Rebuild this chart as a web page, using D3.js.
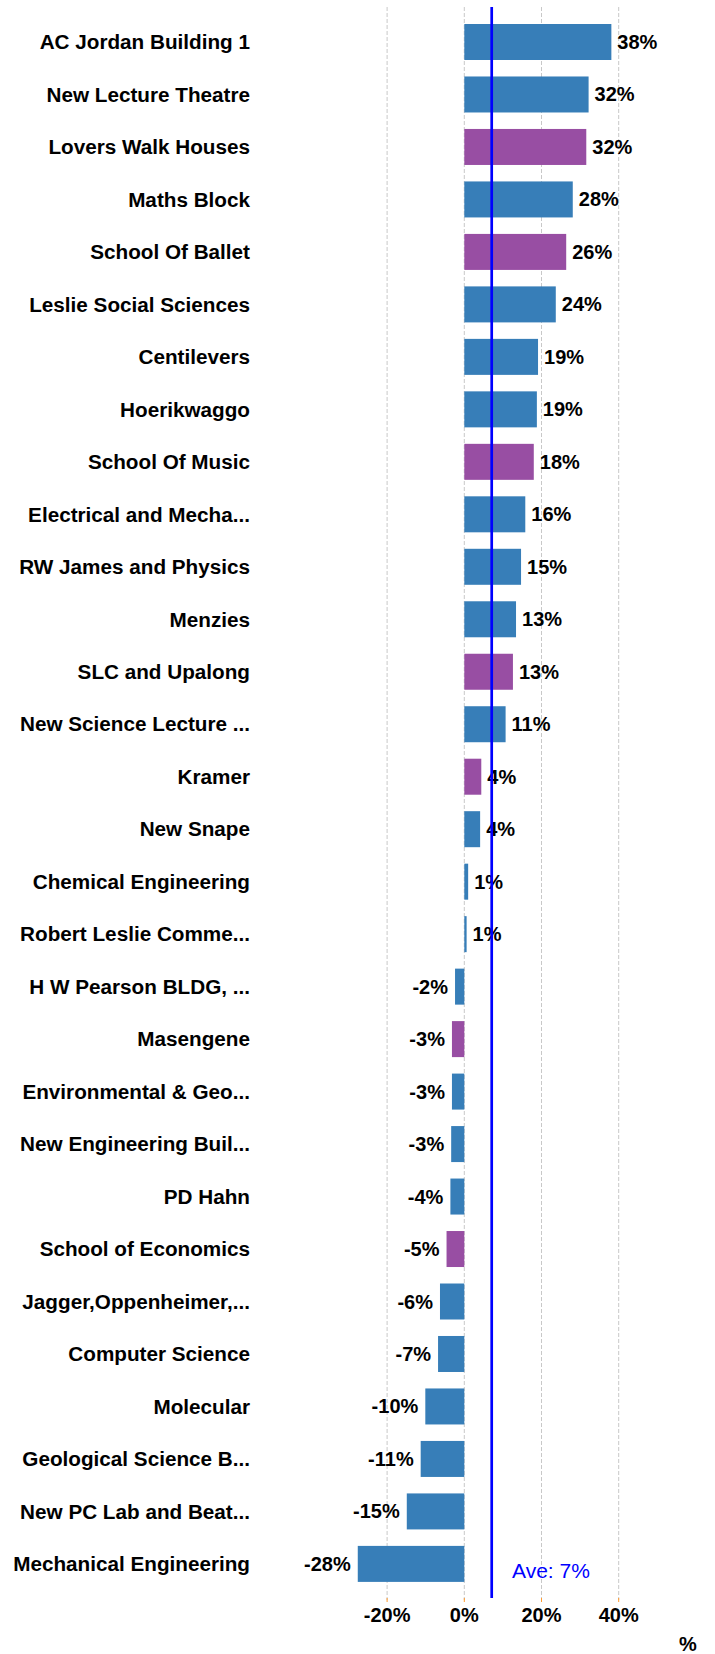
<!DOCTYPE html>
<html><head><meta charset="utf-8">
<script src="https://cdn.jsdelivr.net/npm/d3@7"></script>
<style>
html,body{margin:0;padding:0;background:#fff;}
svg{display:block;}
text{font-family:"Liberation Sans",Arial,Helvetica,sans-serif;}
</style></head>
<body>
<script>
const categories = ["AC Jordan Building 1","New Lecture Theatre","Lovers Walk Houses","Maths Block","School Of Ballet","Leslie Social Sciences","Centilevers","Hoerikwaggo","School Of Music","Electrical and Mecha...","RW James and Physics","Menzies","SLC and Upalong","New Science Lecture ...","Kramer","New Snape","Chemical Engineering","Robert Leslie Comme...","H W Pearson BLDG, ...","Masengene","Environmental & Geo...","New Engineering Buil...","PD Hahn","School of Economics","Jagger,Oppenheimer,...","Computer Science","Molecular","Geological Science B...","New PC Lab and Beat...","Mechanical Engineering"];
const values = [38.1,32.2,31.6,28.1,26.4,23.7,19.1,18.8,18.0,15.8,14.7,13.4,12.6,10.7,4.4,4.1,1.0,0.6,-2.4,-3.2,-3.2,-3.4,-3.6,-4.6,-6.3,-6.8,-10.1,-11.3,-14.9,-27.6];
const groups = ["a","a","b","a","b","a","a","a","b","a","a","a","b","a","b","a","a","a","a","b","a","a","a","b","a","a","a","a","a","a"];
const tickValues = [-20,0,20,40];
const average = 7.1;
const averageLabel = "Ave: 7%";
const axisTitle = "%";

const W=715,H=1654;
const svg=d3.select("body").append("svg").attr("width",W).attr("height",H);
const x=d3.scaleLinear().domain([-30,45]).range([348.5,638]);
const y=d3.scaleBand().domain(categories).range([24,1581.9]).paddingInner(0.314).paddingOuter(0);
const color=d3.scaleOrdinal().domain(["a","b"]).range(["#377eb8","#984ea3"]);
const data=categories.map((c,i)=>({c,v:values[i],g:groups[i]}));

// gridlines
svg.append("g").selectAll("line").data(tickValues).join("line")
  .attr("x1",d=>x(d)).attr("x2",d=>x(d)).attr("y1",7).attr("y2",1600)
  .attr("stroke","#c8c8c8").attr("stroke-width",1).attr("stroke-dasharray","4,2");

// tick marks
svg.append("g").selectAll("line").data(tickValues).join("line")
  .attr("x1",d=>x(d)).attr("x2",d=>x(d)).attr("y1",1598).attr("y2",1602)
  .attr("stroke","#ff9a2e").attr("stroke-width",1);

// bars
svg.append("g").selectAll("rect").data(data).join("rect")
  .attr("x",d=>x(Math.min(0,d.v))).attr("width",d=>Math.abs(x(d.v)-x(0)))
  .attr("y",d=>y(d.c)).attr("height",y.bandwidth())
  .attr("fill",d=>color(d.g));

// category labels
svg.append("g").selectAll("text").data(data).join("text")
  .attr("x",250).attr("y",d=>y(d.c)+y.bandwidth()/2).attr("dy","0.35em")
  .attr("text-anchor","end").attr("font-size",20.7).attr("font-weight","bold").attr("fill","#000")
  .text(d=>d.c);

// value labels
svg.append("g").selectAll("text").data(data).join("text")
  .attr("x",d=>d.v>=0?x(d.v)+6:x(d.v)-7)
  .attr("y",d=>y(d.c)+y.bandwidth()/2).attr("dy","0.35em")
  .attr("text-anchor",d=>d.v>=0?"start":"end")
  .attr("font-size",20).attr("font-weight","bold").attr("fill","#000")
  .text(d=>Math.round(d.v)+"%");

// average line
svg.append("line").attr("x1",x(average)).attr("x2",x(average)).attr("y1",7).attr("y2",1598)
  .attr("stroke","#0000ff").attr("stroke-width",2.7);
svg.append("text").attr("x",512).attr("y",1578).attr("font-size",21).attr("fill","#0000ff")
  .text(averageLabel);

// tick labels
svg.append("g").selectAll("text").data(tickValues).join("text")
  .attr("x",d=>x(d)).attr("y",1622).attr("text-anchor","middle")
  .attr("font-size",20).attr("font-weight","bold").attr("fill","#000")
  .text(d=>d+"%");

svg.append("text").attr("x",688).attr("y",1651).attr("text-anchor","middle")
  .attr("font-size",20).attr("font-weight","bold").attr("fill","#000").text(axisTitle);
</script>
</body></html>
